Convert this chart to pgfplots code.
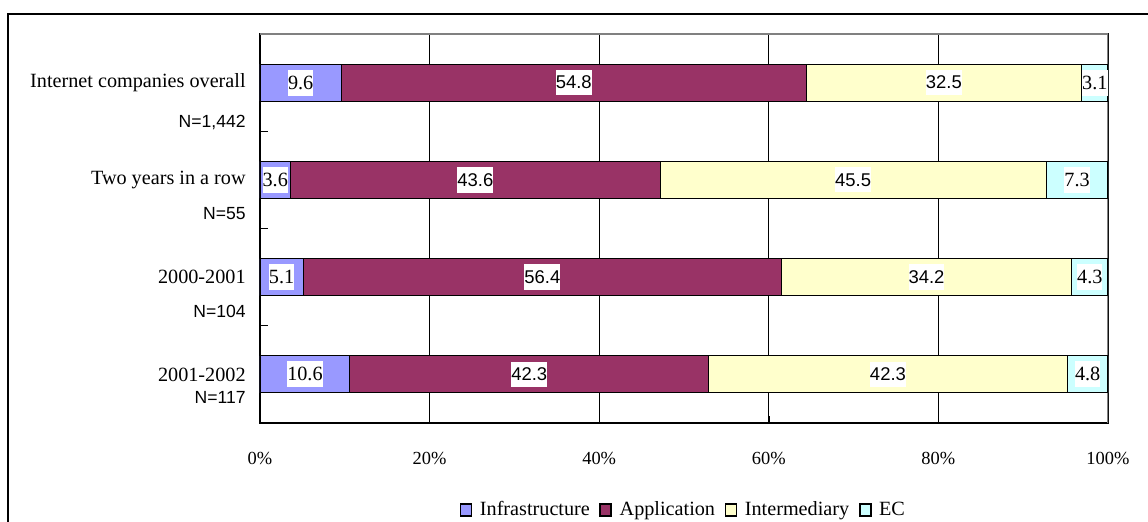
\documentclass[border=0pt]{standalone}
\usepackage{fontspec}
\setmainfont{Liberation Serif}
\setsansfont{Liberation Sans}
\usepackage{pgfplots}
\pgfplotsset{compat=1.18}

\definecolor{infra}{HTML}{9999FF}
\definecolor{appl}{HTML}{993366}
\definecolor{inter}{HTML}{FFFFCC}
\definecolor{ecc}{HTML}{CCFFFF}

\newcommand{\serifsz}{\fontsize{11.5}{13}\selectfont\rmfamily}
\newcommand{\sanssz}{\fontsize{10}{12}\selectfont\sffamily}
\protected\def\bs{\fontsize{10.5}{12}\selectfont\sffamily}
\protected\def\br{\fontsize{11.5}{13}\selectfont\rmfamily}

\begin{document}
\begin{tikzpicture}
\begin{axis}[
  at={(0,0)}, anchor=south west,
  scale only axis,
  width=16.96cm, height=7.78cm,
  xbar stacked,
  bar width=0.74cm,
  xmin=0, xmax=100,
  ymin=-0.5, ymax=3.5,
  axis line style={black, line width=0.8pt},
  tick align=inside,
  xtick pos=bottom, ytick pos=left,
  xtick={0,20,...,100},
  xticklabels={0\%,20\%,40\%,60\%,80\%,100\%},
  xticklabel style={font=\fontsize{10.5}{12}\selectfont\rmfamily, yshift=-0.46cm},
  major x tick style={black, line width=0.8pt},
  xmajorgrids,
  major grid style={black, line width=0.6pt},
  ytick={0,1,2,3},
  yticklabels={2001-2002,2000-2001,Two years in a row,Internet companies overall},
  yticklabel style={font=\serifsz, inner sep=0pt, xshift=-0.28cm},
  major y tick style={draw=none},
  minor ytick={-0.5,0.5,1.5,2.5,3.5},
  minor tick length=0.16cm,
  minor y tick style={black, line width=0.8pt},
  extra y ticks={2.59,1.65,0.65,-0.24},
  extra y tick labels={{N=1,442\hspace{0.12cm}},{N=55\hspace{0.26cm}},{N=104\hspace{0.04cm}},{N=117\hspace{0.04cm}}},
  extra y tick style={major tick length=0pt, yticklabel style={font=\sanssz}},
  every axis plot/.append style={draw=black, line width=0.6pt},
  point meta=explicit symbolic,
  nodes near coords={\pgfplotspointmeta},
  nodes near coords style={anchor=center, fill=white, inner xsep=0pt, inner ysep=3.5pt, font=\serifsz},
  legend style={draw=none, fill=none, legend columns=4, at={(0.5,-0.2237)}, anchor=center,
    font=\serifsz, inner sep=0pt,
    /tikz/every odd column/.append style={column sep=0.08cm},
    /tikz/every even column/.append style={column sep=0.12cm}},
  legend image code/.code={\draw[#1, draw=black, line width=1pt] (0cm,-0.12cm) rectangle (0.22cm,0.12cm);},
]
% Infrastructure
\addplot[fill=infra] coordinates {(10.6,0) [\br 10.6] (5.1,1) [\br 5.1] (3.6,2) [\br 3.6] (9.6,3) [\br 9.6]};
% Application
\addplot[fill=appl] coordinates {(42.3,0) [\bs 42.3] (56.4,1) [\bs 56.4] (43.6,2) [\bs 43.6] (54.8,3) [\bs 54.8]};
% Intermediary
\addplot[fill=inter] coordinates {(42.3,0) [\bs 42.3] (34.2,1) [\bs 34.2] (45.5,2) [\bs 45.5] (32.5,3) [\bs 32.5]};
% EC
\addplot[fill=ecc] coordinates {(4.8,0) [\br 4.8] (4.3,1) [\br 4.3] (7.3,2) [\br 7.3] (3.1,3) [\br 3.1]};
\legend{Infrastructure, Application, Intermediary, EC}
\draw[gray, line width=1pt] (rel axis cs:0,1) -- (rel axis cs:1,1) -- (rel axis cs:1,0);
\end{axis}
\draw[black, line width=0.6pt] (-5.04cm,-2.5cm) -- (-5.04cm,8.18cm) -- (18cm,8.18cm);
\pgfresetboundingbox
\useasboundingbox (-5.2cm,-1.96cm) rectangle (17.76cm,8.46cm);
\end{tikzpicture}
\end{document}
